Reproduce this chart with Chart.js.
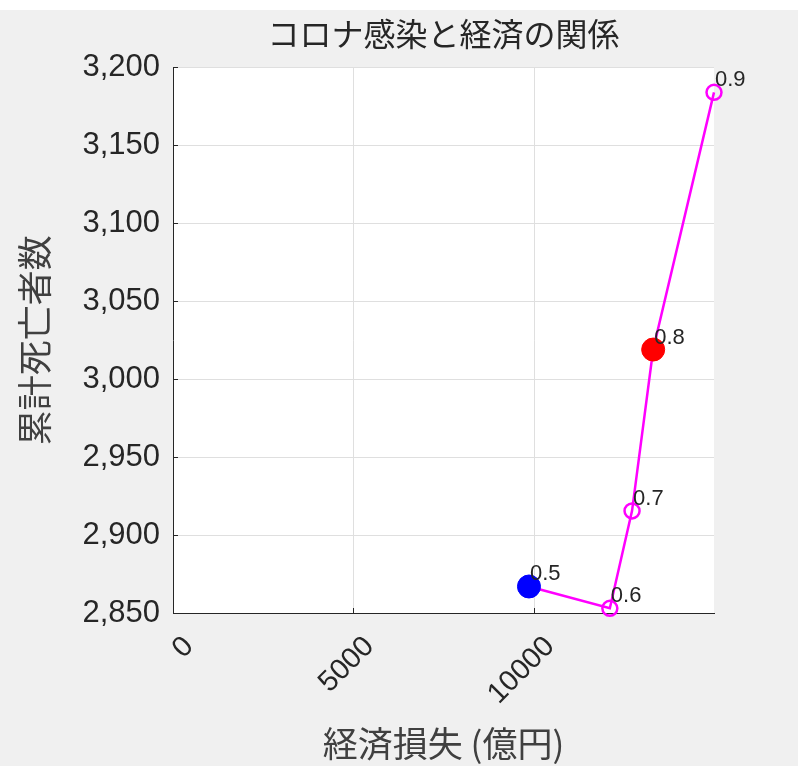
<!DOCTYPE html>
<html>
<head>
<meta charset="utf-8">
<script src="https://cdn.jsdelivr.net/npm/chart.js@4"></script>
<style>
  html, body { margin: 0; padding: 0; background: #ffffff; }
  #chart { display: block; }
</style>
</head>
<body>
<canvas id="chart" width="798" height="766"></canvas>
<script>
// 各レートでの経済損失と累計死亡者数
const rates = ["0.5", "0.6", "0.7", "0.8", "0.9"];
const economicLoss = [9860, 12100, 12715, 13300, 14985];
const cumulativeDeaths = [2867, 2853, 2915.5, 3019, 3184];
const highlighted = { "0.5": "#0000ff", "0.8": "#ff0000" };

const xTicks = [0, 5000, 10000];
const yTicks = [2850, 2900, 2950, 3000, 3050, 3100, 3150, 3200];

const ink = "#262626";
const numFont = "'Liberation Sans', Arial, sans-serif";
const jpFont = "'Noto Sans CJK JP', sans-serif";

// 背景 (上端の白帯 + グレー + 白い描画領域)
const background = {
  id: "background",
  beforeDraw(chart) {
    const { ctx, width, height, chartArea: a } = chart;
    ctx.save();
    ctx.fillStyle = "#ffffff";
    ctx.fillRect(0, 0, width, height);
    ctx.fillStyle = "#f0f0f0";
    ctx.fillRect(0, 10, width, height - 10);
    ctx.fillStyle = "#ffffff";
    ctx.fillRect(a.left, a.top, a.right - a.left, a.bottom - a.top);
    ctx.restore();
  }
};

// 点の右上にレートを表示
const pointLabels = {
  id: "pointLabels",
  afterDatasetsDraw(chart) {
    const { ctx } = chart;
    const meta = chart.getDatasetMeta(0);
    ctx.save();
    ctx.font = "22px " + numFont;
    ctx.fillStyle = ink;
    ctx.textAlign = "left";
    ctx.textBaseline = "alphabetic";
    meta.data.forEach((pt, i) => {
      ctx.fillText(rates[i], pt.x + 1, pt.y - 6);
    });
    ctx.restore();
  }
};

const points = economicLoss.map((x, i) => ({ x: x, y: cumulativeDeaths[i] }));

new Chart(document.getElementById("chart"), {
  type: "line",
  data: {
    datasets: [{
      data: points,
      borderColor: "#ff00ff",
      borderWidth: 2.5,
      pointStyle: "circle",
      pointRadius: rates.map(r => highlighted[r] ? 11.5 : 7.5),
      pointBorderWidth: rates.map(r => highlighted[r] ? 1 : 2.5),
      pointBackgroundColor: rates.map(r => highlighted[r] || "rgba(0,0,0,0)"),
      pointBorderColor: rates.map(r => highlighted[r] || "#ff00ff"),
      tension: 0,
      clip: false
    }]
  },
  options: {
    responsive: false,
    animation: false,
    events: [],
    layout: { padding: { left: 0, right: 84, top: 0, bottom: 0 } },
    plugins: {
      legend: { display: false },
      tooltip: { enabled: false },
      title: {
        display: true,
        text: "コロナ感染と経済の関係",
        fullSize: false,
        color: ink,
        font: { family: jpFont, size: 32, weight: "normal" },
        padding: { top: 15, bottom: 14 }
      }
    },
    scales: {
      x: {
        type: "linear",
        min: 0,
        max: economicLoss[economicLoss.length - 1],
        afterBuildTicks: s => { s.ticks = xTicks.map(v => ({ value: v })); },
        afterFit: s => { s.height = 153; },
        ticks: {
          minRotation: 45,
          maxRotation: 45,
          padding: 10,
          color: ink,
          font: { family: numFont, size: 29, lineHeight: 0.78 },
          // 空行で MATLAB 風に右下へずらす
          callback: v => ["", String(v)]
        },
        grid: { color: "#dfdfdf", tickColor: ink, tickLength: -5 },
        border: { color: ink, width: 1 },
        title: {
          display: true,
          text: "経済損失 (億円)",
          color: "#404040",
          font: { family: jpFont, size: 35 },
          padding: { top: 0, bottom: 1 }
        }
      },
      y: {
        min: 2850,
        max: 3200,
        afterBuildTicks: s => { s.ticks = yTicks.map(v => ({ value: v })); },
        afterFit: s => { s.width = 173; },
        ticks: {
          padding: 18,
          color: ink,
          font: { family: numFont, size: 31 },
          callback: v => v.toLocaleString("en-US")
        },
        grid: { color: "#dfdfdf", tickColor: ink, tickLength: -5 },
        border: { color: ink, width: 1 },
        title: {
          display: true,
          text: "累計死亡者数",
          color: "#404040",
          font: { family: jpFont, size: 35 },
          padding: { top: 14, bottom: 0 }
        }
      }
    }
  },
  plugins: [background, pointLabels]
});
</script>
</body>
</html>
